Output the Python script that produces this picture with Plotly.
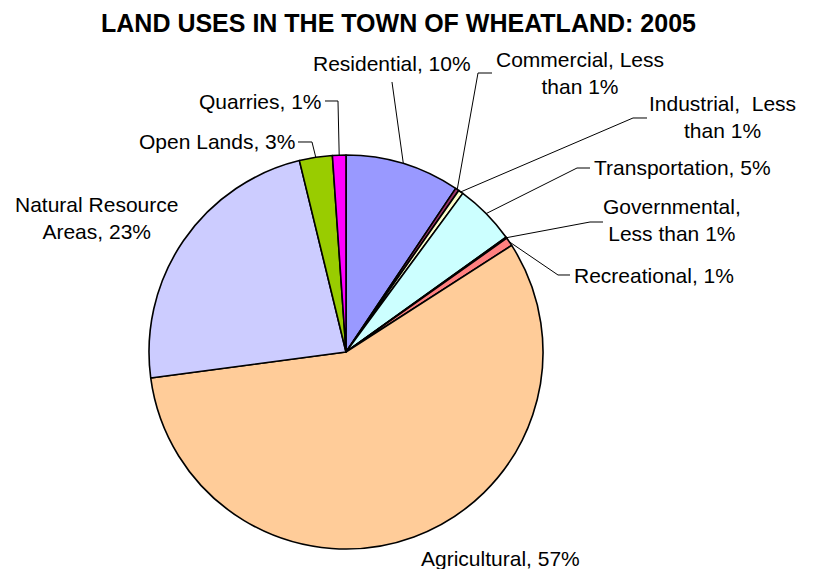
import math
import plotly.graph_objects as go

W, H = 813, 569
OFF = 8  # page body margin in the browser

categories = ["Residential", "Commercial", "Industrial", "Transportation", "Governmental",
              "Recreational", "Agricultural", "Natural Resource Areas", "Open Lands", "Quarries"]
values = [9.4, 0.3, 0.4, 5.0, 0.1, 0.7, 57.0, 23.3, 2.7, 1.1]
label_texts = ["Residential, 10%", "Commercial, Less<br>than 1%", "Industrial,  Less<br>than 1%",
               "Transportation, 5%", "Governmental,<br>Less than 1%", "Recreational, 1%",
               "Agricultural, 57%", "Natural Resource<br>Areas, 23%", "Open Lands, 3%", "Quarries, 1%"]
colors = ["#9999FF", "#993366", "#FFFFCC", "#CCFFFF", "#FFFFFF", "#FF8080",
          "#FFCC99", "#CCCCFF", "#99CC00", "#FF00FF"]

# pie geometry (window pixels)
cx, cy, R = 346, 352, 197

# label layout: text anchor (px), anchors, and leader elbow points (px) or None
label_layout = {
    "Residential": dict(x=392, y=64, xa="center", elbow=[(392, 82)]),
    "Commercial": dict(x=580, y=73, xa="center", elbow=[(492, 73), (478, 73)]),
    "Industrial": dict(x=722, y=117, xa="center", elbow=[(647, 118), (633, 118)]),
    "Transportation": dict(x=592, y=167, xa="left", elbow=[(590, 168), (577, 168)]),
    "Governmental": dict(x=672, y=220, xa="center", elbow=[(603, 222), (590, 222)]),
    "Recreational": dict(x=572, y=275, xa="left", elbow=[(570, 275), (558, 275)]),
    "Agricultural": dict(x=500, y=558, xa="center", elbow=None),
    "Natural Resource Areas": dict(x=96, y=218, xa="center", elbow=None),
    "Open Lands": dict(x=297, y=142, xa="right", elbow=[(298, 142), (312, 142)]),
    "Quarries": dict(x=324, y=101, xa="right", elbow=[(325, 101), (338, 101)]),
}

def px(x):
    return (x - OFF) / W

def py(y):
    return 1 - (y - OFF) / H

FONT = "Liberation Sans, Arial"

fig = go.Figure(go.Pie(
    labels=categories, values=values, sort=False, direction="clockwise", rotation=0,
    marker=dict(colors=colors, line=dict(color="black", width=1.6)),
    textinfo="none", hoverinfo="label+percent", showlegend=False,
    domain=dict(x=[px(cx - R), px(cx + R)], y=[py(cy + R), py(cy - R)]),
))

total = sum(values)
cum = 0.0
shapes = []
annotations = []
for cat, val, txt in zip(categories, values, label_texts):
    mid = (cum + val / 2) / total * 2 * math.pi
    cum += val
    lay = label_layout[cat]
    if lay["elbow"] is not None:
        ax_, ay_ = cx + R * math.sin(mid), cy - R * math.cos(mid)
        pts = list(lay["elbow"]) + [(ax_, ay_)]
        path = "M " + " L ".join(f"{px(a):.5f},{py(b):.5f}" for a, b in pts)
        shapes.append(dict(type="path", path=path, xref="paper", yref="paper",
                           line=dict(color="black", width=1)))
    annotations.append(dict(x=px(lay["x"]), y=py(lay["y"]), xref="paper", yref="paper",
                            text=txt, showarrow=False, xanchor=lay["xa"], yanchor="middle",
                            align="center", font=dict(family=FONT, size=21, color="black")))

annotations.append(dict(x=px(398), y=py(23), xref="paper", yref="paper",
                        text="<b>LAND USES IN THE TOWN OF WHEATLAND: 2005</b>", showarrow=False,
                        xanchor="center", yanchor="middle",
                        font=dict(family=FONT, size=25, color="black")))

fig.update_layout(width=W, height=H, margin=dict(l=0, r=0, t=0, b=0),
                  paper_bgcolor="white", plot_bgcolor="white",
                  shapes=shapes, annotations=annotations)

fig.write_html("out.html")
